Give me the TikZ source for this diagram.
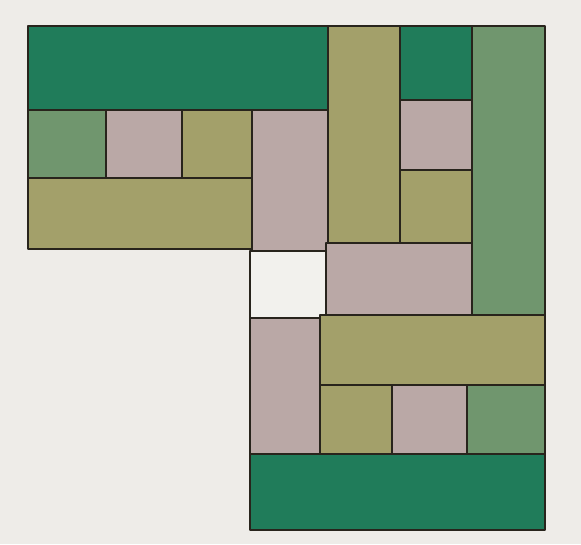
\documentclass[tikz,border=0pt]{standalone}
\usepackage{tikz}

\definecolor{paper}{RGB}{238,236,232}
\definecolor{darkg}{RGB}{32,124,90}
\definecolor{sage}{RGB}{112,150,110}
\definecolor{olive}{RGB}{163,160,106}
\definecolor{mauve}{RGB}{186,168,166}
\definecolor{blank}{RGB}{242,241,237}
\definecolor{pen}{RGB}{40,36,28}

\begin{document}
\begin{tikzpicture}[x=0.5mm, y=-0.5mm,
  tile/.style={draw=pen, line width=1.2mm, line join=round},
  dg/.style={tile, fill=darkg},
  sg/.style={tile, fill=sage},
  ol/.style={tile, fill=olive},
  mv/.style={tile, fill=mauve},
  wt/.style={tile, fill=blank}]
  % paper, fixes the size
  \fill[paper] (0,0) rectangle (581,544);
  \useasboundingbox (0,0) rectangle (581,544);
  % upper left block
  \draw[dg] (28,26) rectangle (328,110);
  \draw[sg] (28,110) rectangle (106,178);
  \draw[mv] (106,110) rectangle (182,178);
  \draw[ol] (182,110) rectangle (252,178);
  \draw[ol] (28,178) rectangle (252,249);
  \draw[mv] (252,110) rectangle (328,251);
  % upper right block
  \draw[ol] (328,26) rectangle (400,243);
  \draw[dg] (400,26) rectangle (472,100);
  \draw[mv] (400,100) rectangle (472,170);
  \draw[ol] (400,170) rectangle (472,243);
  \draw[sg] (472,26) rectangle (545,315);
  \draw[mv] (326,243) rectangle (472,315);
  % the empty square
  \draw[wt] (250,251) rectangle (326,318);
  % lower block
  \draw[mv] (250,318) rectangle (320,454);
  \draw[ol] (320,315) rectangle (545,385);
  \draw[ol] (320,385) rectangle (392,454);
  \draw[mv] (392,385) rectangle (467,454);
  \draw[sg] (467,385) rectangle (545,454);
  \draw[dg] (250,454) rectangle (545,530);
\end{tikzpicture}
\end{document}
